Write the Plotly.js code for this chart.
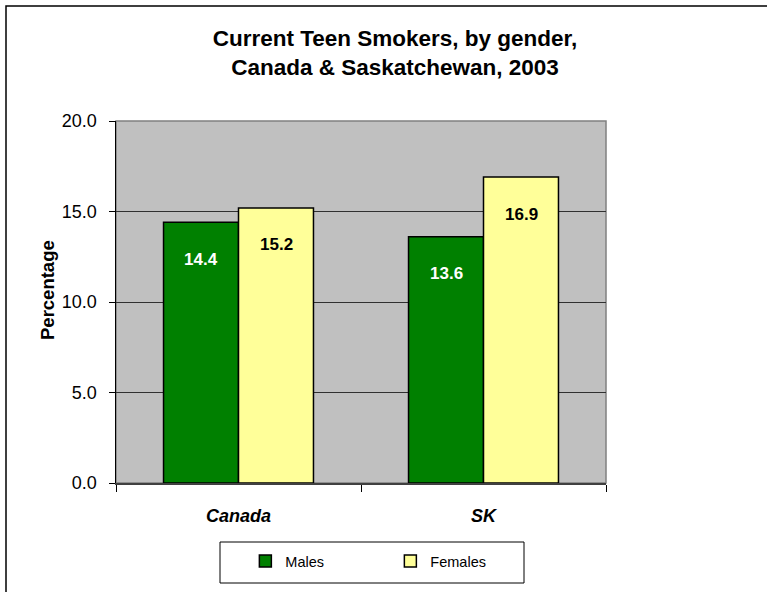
<!DOCTYPE html>
<html>
<head>
<meta charset="utf-8">
<script src="https://cdn.plot.ly/plotly-3.0.1.min.js"></script>
<style>
  html, body { margin: 0; padding: 0; background: #ffffff; }
  #chart { width: 767px; height: 592px; }
</style>
</head>
<body>
<div id="chart"></div>
<script>
const categories = ["Canada", "SK"];
const seriesNames = ["Males", "Females"];
const males = [14.4, 13.6];
const females = [15.2, 16.9];
const yTickValues = [0, 5, 10, 15, 20];
const titleLines = ["Current Teen Smokers, by gender,", "Canada & Saskatchewan, 2003"];
const yTitle = "Percentage";

const FONT = "Arial, 'Liberation Sans', sans-serif";
const colors = ["#008000", "#FFFF99"];
const labelColors = ["#FFFFFF", "#000000"];
const seriesValues = [males, females];

const traces = seriesValues.map((vals, i) => ({
  type: "bar",
  name: seriesNames[i],
  x: categories,
  y: vals,
  marker: { color: colors[i], line: { color: "#000000", width: 1.5 } },
  hoverinfo: "skip"
}));

const annotations = [];
seriesValues.forEach((vals, i) => {
  vals.forEach((v, j) => {
    annotations.push({
      x: categories[j], y: v, xref: "x", yref: "y",
      text: "<b>" + v.toFixed(1) + "</b>",
      showarrow: false,
      xshift: i === 0 ? -37.5 : 37.5,
      yshift: -37,
      yanchor: "middle",
      font: { family: FONT, size: 17, color: labelColors[i] }
    });
  });
});

annotations.push({
  xref: "paper", yref: "paper",
  x: (47 - 116) / 490, y: (483 - 290) / 362,
  xanchor: "center", yanchor: "middle",
  text: "<b>" + yTitle + "</b>",
  textangle: -90,
  showarrow: false,
  font: { family: FONT, size: 18.5, color: "#000000" }
});

const layout = {
  width: 767, height: 592,
  margin: { l: 116, r: 161, t: 121, b: 109, pad: 0 },
  paper_bgcolor: "#ffffff",
  plot_bgcolor: "#C0C0C0",
  font: { family: FONT, color: "#000000" },
  title: {
    text: "<b>" + titleLines.join("<br>") + "</b>",
    font: { family: FONT, size: 22.5, color: "#000000" },
    x: 0.515, xanchor: "center",
    y: 1 - 46 / 592, yanchor: "middle",
    xref: "container", yref: "container"
  },
  barmode: "group",
  bargap: 0.388,
  bargroupgap: 0,
  showlegend: true,
  legend: {
    orientation: "h",
    x: 0.264, xanchor: "left",
    y: -0.2155, yanchor: "middle",
    bgcolor: "rgba(0,0,0,0)",
    borderwidth: 0,
    font: { family: FONT, size: 14.5, color: "#000000" },
    entrywidth: 100,
    traceorder: "normal"
  },
  xaxis: {
    type: "category",
    showgrid: false,
    showline: true, linecolor: "#404040", linewidth: 1.5,
    ticks: "outside", tickson: "boundaries", ticklen: 7, tickcolor: "#000000", tickwidth: 1,
    ticklabelstandoff: 16,
    tickfont: { family: FONT, size: 18, color: "#000000" },
    ticktext: categories.map(c => "<b><i>" + c + "</i></b>"),
    tickvals: categories,
    tickmode: "array",
    zeroline: false, fixedrange: true
  },
  yaxis: {
    range: [0, 20],
    tickvals: yTickValues,
    tickmode: "array",
    tickformat: ".1f",
    showgrid: true, gridcolor: "#303030", gridwidth: 1,
    showline: true, linecolor: "#000000", linewidth: 1.5,
    ticks: "outside", ticklen: 6, tickcolor: "#000000", tickwidth: 1,
    ticklabelstandoff: 8,
    tickfont: { family: FONT, size: 18, color: "#000000" },
    zeroline: false, fixedrange: true
  },
  annotations: annotations,
  shapes: [
    { type: "rect", xref: "paper", yref: "paper", x0: 0, x1: 1, y0: 0, y1: 1,
      line: { color: "#808080", width: 1.5 }, fillcolor: "rgba(0,0,0,0)", layer: "below" },
    { type: "rect", xref: "paper", yref: "paper",
      x0: (220 - 116) / 490, x1: (524 - 116) / 490,
      y0: (483 - 583) / 362, y1: (483 - 542) / 362,
      line: { color: "#000000", width: 1 }, fillcolor: "rgba(0,0,0,0)" },
    { type: "rect", xref: "paper", yref: "paper",
      x0: (6 - 116) / 490, x1: 1.5,
      y0: -0.5, y1: (483 - 6) / 362,
      line: { color: "#000000", width: 1.5 }, fillcolor: "rgba(0,0,0,0)" }
  ]
};

Plotly.newPlot("chart", traces, layout, { displayModeBar: false, staticPlot: true });
</script>
</body>
</html>
